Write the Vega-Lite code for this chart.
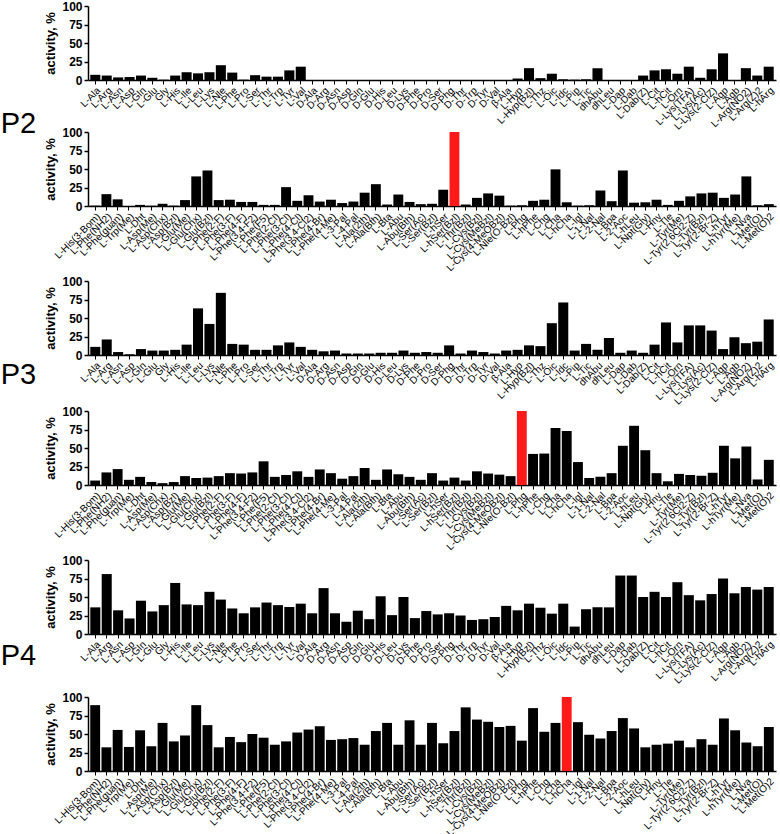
{
  "$schema": "https://vega.github.io/schema/vega-lite/v6.json",
  "padding": {"left": 0, "top": 0, "right": 2, "bottom": 0},
  "spacing": 2,
  "datasets": {
    "row1": [
      {"aa": "L-Ala", "P2": 7, "P3": 11, "P4": 36},
      {"aa": "L-Arg", "P2": 6, "P3": 21, "P4": 81},
      {"aa": "L-Asn", "P2": 3.5, "P3": 4, "P4": 32},
      {"aa": "L-Asp", "P2": 4, "P3": 1, "P4": 21},
      {"aa": "L-Gln", "P2": 6, "P3": 8, "P4": 45},
      {"aa": "L-Glu", "P2": 3, "P3": 6, "P4": 30.5},
      {"aa": "Gly", "P2": 0.5, "P3": 6, "P4": 39},
      {"aa": "L-His", "P2": 6, "P3": 7, "P4": 69},
      {"aa": "L-Ile", "P2": 10.5, "P3": 14, "P4": 40},
      {"aa": "L-Leu", "P2": 9, "P3": 63, "P4": 39},
      {"aa": "L-Lys", "P2": 10.5, "P3": 42, "P4": 57},
      {"aa": "L-Nle", "P2": 20, "P3": 84, "P4": 46.5},
      {"aa": "L-Phe", "P2": 10, "P3": 15, "P4": 34.5},
      {"aa": "L-Pro", "P2": 0.5, "P3": 14, "P4": 28},
      {"aa": "L-Ser", "P2": 6.5, "P3": 7, "P4": 36},
      {"aa": "L-Thr", "P2": 4.5, "P3": 7, "P4": 42.5},
      {"aa": "L-Trp", "P2": 4.5, "P3": 13, "P4": 39},
      {"aa": "L-Tyr", "P2": 13, "P3": 17, "P4": 36.5},
      {"aa": "L-Val", "P2": 18, "P3": 11, "P4": 41},
      {"aa": "D-Ala", "P2": 0, "P3": 7, "P4": 28},
      {"aa": "D-Arg", "P2": 0, "P3": 5, "P4": 62},
      {"aa": "D-Asn", "P2": 0, "P3": 6, "P4": 28},
      {"aa": "D-Asp", "P2": 0, "P3": 2, "P4": 16.5},
      {"aa": "D-Gln", "P2": 0, "P3": 2, "P4": 31.5},
      {"aa": "D-Glu", "P2": 0, "P3": 2, "P4": 20},
      {"aa": "D-His", "P2": 0, "P3": 3, "P4": 51},
      {"aa": "D-Leu", "P2": 0, "P3": 3, "P4": 25.5},
      {"aa": "D-Lys", "P2": 0, "P3": 6, "P4": 50},
      {"aa": "D-Phe", "P2": 0, "P3": 3, "P4": 21.5},
      {"aa": "D-Pro", "P2": 0, "P3": 4, "P4": 31},
      {"aa": "D-Ser", "P2": 0, "P3": 3, "P4": 26.5},
      {"aa": "D-Phg", "P2": 0, "P3": 13, "P4": 28},
      {"aa": "D-Thr", "P2": 0, "P3": 2, "P4": 25},
      {"aa": "D-Trp", "P2": 0, "P3": 6, "P4": 19},
      {"aa": "D-Tyr", "P2": 0, "P3": 4, "P4": 20},
      {"aa": "D-Val", "P2": 0, "P3": 2, "P4": 23},
      {"aa": "β-Ala", "P2": 0, "P3": 6, "P4": 38},
      {"aa": "L-Hyp", "P2": 2, "P3": 7, "P4": 32},
      {"aa": "L-Hyp(Bzl)", "P2": 16, "P3": 13, "P4": 41},
      {"aa": "L-Thz", "P2": 2.5, "P3": 12, "P4": 35.5},
      {"aa": "L-Oic", "P2": 8.5, "P3": 43, "P4": 27.5},
      {"aa": "L-Idc", "P2": 1, "P3": 71, "P4": 41},
      {"aa": "L-Pip", "P2": 0.5, "P3": 6, "P4": 10},
      {"aa": "L-Tic", "P2": 1, "P3": 15, "P4": 33.5},
      {"aa": "dhAbu", "P2": 16, "P3": 7, "P4": 36},
      {"aa": "dhLeu", "P2": 0, "P3": 23, "P4": 36},
      {"aa": "L-Dap", "P2": 0, "P3": 3, "P4": 79},
      {"aa": "L-Dab", "P2": 0, "P3": 6, "P4": 79},
      {"aa": "L-Dab(Z)", "P2": 6, "P3": 3, "P4": 50},
      {"aa": "L-Cit", "P2": 13, "P3": 14, "P4": 57},
      {"aa": "L-hCit", "P2": 14.5, "P3": 44, "P4": 50},
      {"aa": "L-Orn", "P2": 8.5, "P3": 17, "P4": 70},
      {"aa": "L-Lys(TFA)", "P2": 18, "P3": 40, "P4": 52.5},
      {"aa": "L-Lys(Ac)", "P2": 3, "P3": 40, "P4": 45.5},
      {"aa": "L-Lys(2-ClZ)", "P2": 14.5, "P3": 33, "P4": 54},
      {"aa": "L-Agp", "P2": 36, "P3": 8, "P4": 75},
      {"aa": "L-Agb", "P2": 0, "P3": 24, "P4": 55},
      {"aa": "L-Arg(NO2)", "P2": 16, "P3": 16, "P4": 63.5},
      {"aa": "L-Arg(Z)2", "P2": 6, "P3": 18, "P4": 60},
      {"aa": "L-hArg", "P2": 18, "P3": 48, "P4": 63.5}
    ],
    "row2": [
      {"aa": "L-His(3-Bom)", "P2": 0.5, "P3": 6, "P4": 89},
      {"aa": "L-Phe(NH2)", "P2": 16, "P3": 17, "P4": 32},
      {"aa": "L-Phe(guan)", "P2": 9, "P3": 21.5, "P4": 55.5},
      {"aa": "L-Trp(Me)", "P2": 0, "P3": 7, "P4": 32.5},
      {"aa": "L-Dht", "P2": 1.5, "P3": 11, "P4": 55},
      {"aa": "L-Asp(Me)", "P2": 0.5, "P3": 4, "P4": 33.5},
      {"aa": "L-Asp(Chx)", "P2": 3, "P3": 2.5, "P4": 65},
      {"aa": "L-Asp(Bzl)", "P2": 0.5, "P3": 4, "P4": 40},
      {"aa": "L-Glu(Me)", "P2": 8, "P3": 12, "P4": 48},
      {"aa": "L-Glu(Chx)", "P2": 40, "P3": 9.5, "P4": 89},
      {"aa": "L-Glu(Bzl)", "P2": 48, "P3": 10, "P4": 62},
      {"aa": "L-Phe(2-F)", "P2": 8, "P3": 12, "P4": 32},
      {"aa": "L-Phe(3-F)", "P2": 8.5, "P3": 16, "P4": 46},
      {"aa": "L-Phe(4-F)", "P2": 5.5, "P3": 15.5, "P4": 39},
      {"aa": "L-Phe(3,4-F2)", "P2": 5.5, "P3": 17, "P4": 50},
      {"aa": "L-Phe(F5)", "P2": 1.5, "P3": 32, "P4": 45},
      {"aa": "L-Phe(2-Cl)", "P2": 1.5, "P3": 11, "P4": 35.5},
      {"aa": "L-Phe(3-Cl)", "P2": 25.5, "P3": 13.5, "P4": 40},
      {"aa": "L-Phe(4-Cl)", "P2": 7, "P3": 18.5, "P4": 52},
      {"aa": "L-Phe(3,4-Cl2)", "P2": 14.5, "P3": 11, "P4": 56},
      {"aa": "L-Phe(4-Br)", "P2": 6, "P3": 21, "P4": 60.5},
      {"aa": "L-Phe(4-Me)", "P2": 8.5, "P3": 16, "P4": 42},
      {"aa": "L-3-Pal", "P2": 4, "P3": 8.5, "P4": 43},
      {"aa": "L-4-Pal", "P2": 6, "P3": 12, "P4": 44.5},
      {"aa": "L-Ala(2th)", "P2": 18, "P3": 23, "P4": 35.5},
      {"aa": "L-Ala(Bth)", "P2": 29.5, "P3": 7, "P4": 54},
      {"aa": "L-Bta", "P2": 2, "P3": 21, "P4": 65},
      {"aa": "L-Abu", "P2": 15.5, "P3": 14.5, "P4": 35.5},
      {"aa": "L-Abu(Bth)", "P2": 5.5, "P3": 11, "P4": 68.5},
      {"aa": "L-Ser(Ac)", "P2": 2.5, "P3": 7, "P4": 35.5},
      {"aa": "L-Ser(Bzl)", "P2": 3, "P3": 16, "P4": 65},
      {"aa": "L-hSer", "P2": 22, "P3": 6, "P4": 37.5},
      {"aa": "L-hSer(Bzl)", "P2": 100, "P3": 10, "P4": 54},
      {"aa": "L-Thr(Bzl)", "P2": 2, "P3": 6, "P4": 86},
      {"aa": "L-Cys(Bzl)", "P2": 11, "P3": 18.5, "P4": 69.5},
      {"aa": "L-Cys(MeBzl)", "P2": 17, "P3": 15.5, "P4": 66.5},
      {"aa": "L-Cys(4-MeOBzl)", "P2": 14, "P3": 14, "P4": 59.5},
      {"aa": "L-Nle(O-Bzl)", "P2": 0.5, "P3": 12, "P4": 61},
      {"aa": "L-Phg", "P2": 1, "P3": 100, "P4": 41},
      {"aa": "L-hPhe", "P2": 7, "P3": 42, "P4": 85},
      {"aa": "L-Chg", "P2": 8.5, "P3": 42.5, "P4": 53},
      {"aa": "L-Cha", "P2": 49.5, "P3": 77, "P4": 65},
      {"aa": "L-hCha", "P2": 5, "P3": 73, "P4": 100},
      {"aa": "L-Igl", "P2": 0.5, "P3": 31, "P4": 66},
      {"aa": "L-1-Nal", "P2": 1, "P3": 9.5, "P4": 49},
      {"aa": "L-2-Nal", "P2": 21, "P3": 11, "P4": 44},
      {"aa": "L-Bpa", "P2": 6.5, "P3": 16, "P4": 54},
      {"aa": "L-2-Aoc", "P2": 48, "P3": 53, "P4": 71.5},
      {"aa": "L-hLeu", "P2": 4.5, "P3": 80, "P4": 57.5},
      {"aa": "L-Npt(Gly)", "P2": 5, "P3": 47, "P4": 32},
      {"aa": "L-Hnv", "P2": 8.5, "P3": 16, "P4": 35.5},
      {"aa": "L-Tle", "P2": 1.5, "P3": 5, "P4": 37},
      {"aa": "L-Tyr(Me)", "P2": 7, "P3": 15, "P4": 41},
      {"aa": "L-Tyr(2,6Cl2-Z)", "P2": 13, "P3": 13.5, "P4": 32},
      {"aa": "L-Tyr(Bzl)", "P2": 17, "P3": 12.5, "P4": 43},
      {"aa": "L-Tyr(2-Br-Z)", "P2": 18, "P3": 16.5, "P4": 35.5},
      {"aa": "L-hTyr", "P2": 11, "P3": 53, "P4": 71},
      {"aa": "L-hTyr(Me)", "P2": 15.5, "P3": 36, "P4": 55},
      {"aa": "L-Nva", "P2": 40, "P3": 52, "P4": 38.5},
      {"aa": "L-Met(O)", "P2": 1, "P3": 7.5, "P4": 33.5},
      {"aa": "L-Met(O)2", "P2": 2.5, "P3": 34, "P4": 59.5}
    ]
  },
  "vconcat": [
    {
      "title": {"text": "P2", "orient": "left", "angle": 0, "anchor": "middle", "baseline": "middle", "fontSize": 29, "fontWeight": "normal", "font": "Liberation Sans", "color": "black", "offset": -9, "dy": -12},
      "spacing": -9,
      "vconcat": [
        {"data": {"name": "row1"}, "width": 688, "height": 74, "mark": {"type": "bar"},
         "encoding": {
           "x": {"field": "aa", "type": "nominal", "sort": null, "scale": {"paddingInner": 0.12, "paddingOuter": 0.2}, "axis": {"title": null}},
           "y": {"field": "P2", "type": "quantitative", "scale": {"domain": [0, 100], "nice": false}, "axis": {"title": "activity, %", "values": [0, 25, 50, 75, 100]}},
           "color": {"condition": {"test": "datum.P2 >= 100", "value": "#ff1a1a"}, "value": "black"}}},
        {"data": {"name": "row2"}, "width": 688, "height": 74, "mark": {"type": "bar"},
         "encoding": {
           "x": {"field": "aa", "type": "nominal", "sort": null, "scale": {"paddingInner": 0.12, "paddingOuter": 0.2}, "axis": {"title": null}},
           "y": {"field": "P2", "type": "quantitative", "scale": {"domain": [0, 100], "nice": false}, "axis": {"title": "activity, %", "values": [0, 25, 50, 75, 100]}},
           "color": {"condition": {"test": "datum.P2 >= 100", "value": "#ff1a1a"}, "value": "black"}}}
      ]
    },
    {
      "title": {"text": "P3", "orient": "left", "angle": 0, "anchor": "middle", "baseline": "middle", "fontSize": 29, "fontWeight": "normal", "font": "Liberation Sans", "color": "black", "offset": -9, "dy": -38},
      "spacing": -2,
      "vconcat": [
        {"data": {"name": "row1"}, "width": 688, "height": 74, "mark": {"type": "bar"},
         "encoding": {
           "x": {"field": "aa", "type": "nominal", "sort": null, "scale": {"paddingInner": 0.12, "paddingOuter": 0.2}, "axis": {"title": null}},
           "y": {"field": "P3", "type": "quantitative", "scale": {"domain": [0, 100], "nice": false}, "axis": {"title": "activity, %", "values": [0, 25, 50, 75, 100]}},
           "color": {"condition": {"test": "datum.P3 >= 100", "value": "#ff1a1a"}, "value": "black"}}},
        {"data": {"name": "row2"}, "width": 688, "height": 74, "mark": {"type": "bar"},
         "encoding": {
           "x": {"field": "aa", "type": "nominal", "sort": null, "scale": {"paddingInner": 0.12, "paddingOuter": 0.2}, "axis": {"title": null}},
           "y": {"field": "P3", "type": "quantitative", "scale": {"domain": [0, 100], "nice": false}, "axis": {"title": "activity, %", "values": [0, 25, 50, 75, 100]}},
           "color": {"condition": {"test": "datum.P3 >= 100", "value": "#ff1a1a"}, "value": "black"}}}
      ]
    },
    {
      "title": {"text": "P4", "orient": "left", "angle": 0, "anchor": "middle", "baseline": "middle", "fontSize": 29, "fontWeight": "normal", "font": "Liberation Sans", "color": "black", "offset": -9, "dy": -40},
      "spacing": 5,
      "vconcat": [
        {"data": {"name": "row1"}, "width": 688, "height": 74, "mark": {"type": "bar"},
         "encoding": {
           "x": {"field": "aa", "type": "nominal", "sort": null, "scale": {"paddingInner": 0.12, "paddingOuter": 0.2}, "axis": {"title": null}},
           "y": {"field": "P4", "type": "quantitative", "scale": {"domain": [0, 100], "nice": false}, "axis": {"title": "activity, %", "values": [0, 25, 50, 75, 100]}},
           "color": {"condition": {"test": "datum.P4 >= 100", "value": "#ff1a1a"}, "value": "black"}}},
        {"data": {"name": "row2"}, "width": 688, "height": 74, "mark": {"type": "bar"},
         "encoding": {
           "x": {"field": "aa", "type": "nominal", "sort": null, "scale": {"paddingInner": 0.12, "paddingOuter": 0.2}, "axis": {"title": null}},
           "y": {"field": "P4", "type": "quantitative", "scale": {"domain": [0, 100], "nice": false}, "axis": {"title": "activity, %", "values": [0, 25, 50, 75, 100]}},
           "color": {"condition": {"test": "datum.P4 >= 100", "value": "#ff1a1a"}, "value": "black"}}}
      ]
    }
  ],
  "config": {
    "font": "Liberation Sans",
    "view": {"stroke": null},
    "axisX": {"labelAngle": -45, "labelFontSize": 10, "labelFont": "Liberation Sans", "labelColor": "black", "labelPadding": 1, "tickSize": 4, "tickColor": "black", "domainColor": "black", "domainWidth": 1.5, "tickWidth": 1, "labelOverlap": false, "labelBound": false, "grid": false},
    "axisY": {"labelFontWeight": "bold", "labelFontSize": 12, "labelFont": "Liberation Sans", "labelColor": "black", "titleFont": "Liberation Sans", "titleFontSize": 13, "titleFontWeight": "bold", "titleColor": "black", "domainColor": "black", "domainWidth": 1.5, "tickColor": "black", "tickWidth": 1.5, "tickSize": 4, "grid": false, "labelPadding": 2, "titlePadding": 4}
  }
}
